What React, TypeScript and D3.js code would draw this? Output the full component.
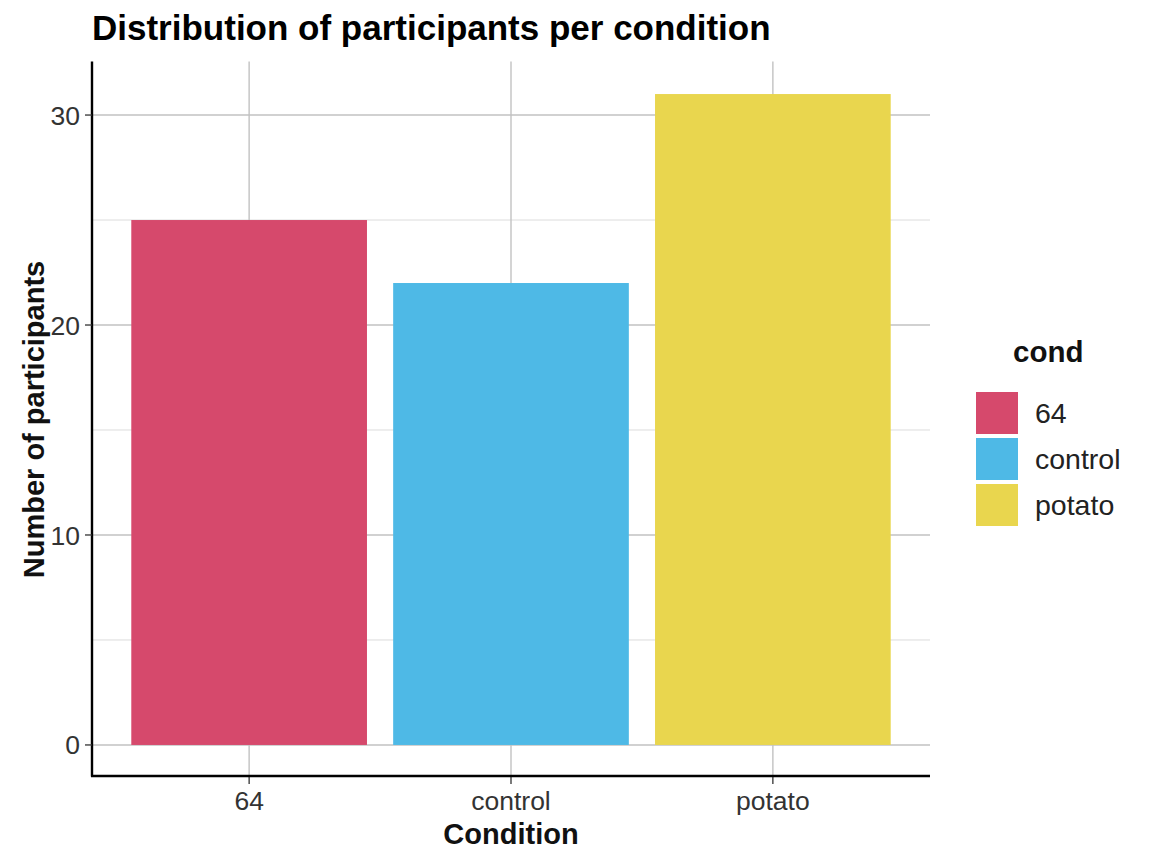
import React from "react";
import * as d3 from "d3";

const categories = ["64", "control", "potato"];
const counts = [25, 22, 31];
const colors = ["#D6496C", "#4EB9E6", "#E9D64E"];
const yMajorTicks = [0, 10, 20, 30];
const yMinorTicks = [5, 15, 25];

const W = 1152;
const H = 864;
const panel = { left: 92, right: 930, top: 61.5, bottom: 777.5 };

export default function App() {
  const x = d3
    .scaleBand<string>()
    .domain(categories)
    .range([panel.left + (262 * 0.6 - 131), panel.right - (262 * 0.6 - 131)])
    .paddingInner(0);
  const step = x.bandwidth();
  const barW = step * 0.9;
  const y = d3.scaleLinear().domain([-1.55, 32.55]).range([panel.bottom, panel.top]);
  const font = "Liberation Sans, Arial, sans-serif";
  const cx = (c: string) => (x(c) as number) + step / 2;

  return (
    <svg width={W} height={H} style={{ position: "absolute", left: 0, top: 0 }} fontFamily={font}>
      <rect x={0} y={0} width={W} height={H} fill="white" />
      {yMinorTicks.map((t) => (
        <line key={"mi" + t} x1={panel.left} x2={panel.right} y1={y(t)} y2={y(t)} stroke="#DCDCDC" strokeWidth={1} />
      ))}
      {yMajorTicks.map((t) => (
        <line key={"ma" + t} x1={panel.left} x2={panel.right} y1={y(t)} y2={y(t)} stroke="#C2C2C2" strokeWidth={1.4} />
      ))}
      {categories.map((c) => (
        <line key={"vx" + c} x1={cx(c)} x2={cx(c)} y1={panel.top} y2={panel.bottom} stroke="#C2C2C2" strokeWidth={1.4} />
      ))}
      {categories.map((c, i) => (
        <rect key={"b" + c} x={cx(c) - barW / 2} width={barW} y={y(counts[i])} height={y(0) - y(counts[i])} fill={colors[i]} />
      ))}
      {/* axes */}
      <line x1={panel.left} x2={panel.left} y1={panel.top} y2={776.5} stroke="black" strokeWidth={2.4} />
      <line x1={panel.left - 1} x2={panel.right} y1={776} y2={776} stroke="black" strokeWidth={2.4} />
      {yMajorTicks.map((t) => (
        <g key={"yt" + t}>
          <line x1={panel.left - 7} x2={panel.left} y1={y(t)} y2={y(t)} stroke="#333" strokeWidth={1.3} />
          <text x={panel.left - 12} y={y(t)} dy="0.36em" textAnchor="end" fontSize={26.5} fill="#333">
            {t}
          </text>
        </g>
      ))}
      {categories.map((c) => (
        <g key={"xt" + c}>
          <line x1={cx(c)} x2={cx(c)} y1={777} y2={784} stroke="#333" strokeWidth={1.3} />
          <text x={cx(c)} y={810} textAnchor="middle" fontSize={26.5} fill="#333">
            {c}
          </text>
        </g>
      ))}
      <text x={(panel.left + panel.right) / 2} y={844} textAnchor="middle" fontSize={29} fontWeight="bold" fill="#111">
        Condition
      </text>
      <text
        transform={`translate(${44},${(panel.top + panel.bottom) / 2}) rotate(-90)`}
        textAnchor="middle"
        fontSize={29}
        fontWeight="bold"
        fill="#111"
      >
        Number of participants
      </text>
      <text x={92} y={40} fontSize={35} fontWeight="bold" fill="#000">
        Distribution of participants per condition
      </text>
      {/* legend */}
      <text x={1013} y={362} fontSize={29.5} fontWeight="bold" fill="#111">
        cond
      </text>
      {categories.map((c, i) => (
        <g key={"lg" + c}>
          <rect x={976} y={392 + i * 46} width={42} height={42} fill={colors[i]} />
          <text x={1035} y={392 + i * 46 + 21} dy="0.36em" fontSize={28.5} fill="#222">
            {c}
          </text>
        </g>
      ))}
    </svg>
  );
}
